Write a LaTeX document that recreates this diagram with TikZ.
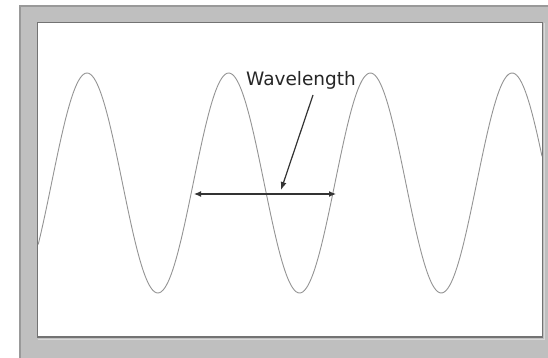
\documentclass[tikz,border=0pt]{standalone}
\usepackage{fontspec}
\setmainfont{DejaVu Sans}
\usetikzlibrary{arrows.meta}

\begin{document}
\begin{tikzpicture}[x=1pt,y=-1pt,
    every node/.style={font=\fontsize{18.5}{20}\selectfont,text=black!85},
    frame/.style={fill=black!25},
    panel/.style={fill=white,draw=black!55,line width=1.3pt},
    wave/.style={draw=black!42,line width=0.9pt},
    span/.style={draw=black!80,line width=1.2pt,{Latex[length=7pt,width=6pt]}-{Latex[length=7pt,width=6pt]}},
    pointer/.style={draw=black!80,line width=1.2pt,-{Latex[length=8pt,width=6pt]}}
]
\useasboundingbox (0,0) rectangle (548,358);

% grey frame
\fill[frame] (19,5) rectangle (548,358);
\draw[black!40,line width=2pt] (20,358) -- (20,6) -- (548,6);

% inner panel
\draw[white!85!black,line width=1pt] (38,339) -- (544,339) -- (544,23);
\draw[panel] (37.5,22.5) rectangle (542.5,337);

% the wave
\draw[wave] plot[domain=38.2:542, samples=300, smooth]
  (\x,{183-110*cos((\x-87)/141.7*360)});

% labels
\node (lbl) at (301,80) {Wavelength};
\coordinate (wl) at (194,194);
\coordinate (wr) at (336,194);
\coordinate (pstart) at (313,95);
\coordinate (ptip) at (281,190);

\draw[span] (wl) -- (wr);
\draw[pointer] (pstart) -- (ptip);

\end{tikzpicture}
\end{document}
